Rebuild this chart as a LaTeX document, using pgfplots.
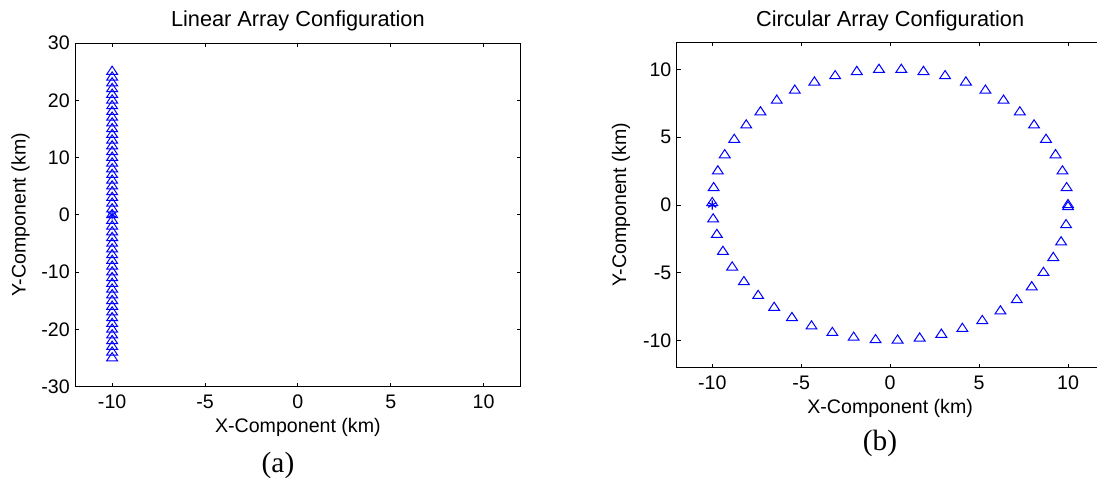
\documentclass[border=0pt]{standalone}
\usepackage{pgfplots}
\pgfplotsset{compat=1.18}
\usepackage{fontspec}
\setmainfont{Liberation Sans}
\newfontfamily\timesfont{Liberation Serif}

\newcommand{\axfont}{\fontsize{14.7}{17}\selectfont}
\newcommand{\titlefont}{\fontsize{16.3}{19}\selectfont}
\newcommand{\capfont}{\timesfont\fontsize{22}{26}\selectfont}

\pgfplotsset{
  matlab/.style={
    scale only axis,
    xmin=-12, xmax=12,
    xtick={-10,-5,0,5,10},
    tick align=inside,
    major tick length=3pt,
    axis line style={black, line width=0.6pt},
    tick style={black, line width=0.6pt},
    ticklabel style={font=\axfont, inner sep=0pt},
    xticklabel style={yshift=-6.2pt},
    yticklabel style={xshift=-3.8pt},
    /pgf/number format/assume math mode=true,
  },
  tri/.style={only marks, color=blue, mark=triangle, mark size=4.1pt,
    mark options={xscale=1.15, line width=0.75pt}},
  ref/.style={only marks, color=blue, mark=asterisk, mark size=3.5pt,
    mark options={line width=0.9pt}},
}

\begin{document}
\begin{tikzpicture}
\path[use as bounding box] (0,0) rectangle (822.75pt,-358.5pt);

% (a) linear array
\begin{axis}[matlab, name=A, at={(56.25pt,-32.25pt)}, anchor=north west,
  width=334.3pt, height=257.8pt,
  ymin=-30, ymax=30, ytick={-30,-20,...,30}]
\addplot[tri] coordinates {
  (-10,-25) (-10,-24) (-10,-23) (-10,-22) (-10,-21) (-10,-20) (-10,-19)
  (-10,-18) (-10,-17) (-10,-16) (-10,-15) (-10,-14) (-10,-13) (-10,-12)
  (-10,-11) (-10,-10) (-10,-9) (-10,-8) (-10,-7) (-10,-6) (-10,-5)
  (-10,-4) (-10,-3) (-10,-2) (-10,-1) (-10,0) (-10,1) (-10,2) (-10,3)
  (-10,4) (-10,5) (-10,6) (-10,7) (-10,8) (-10,9) (-10,10) (-10,11)
  (-10,12) (-10,13) (-10,14) (-10,15) (-10,16) (-10,17) (-10,18)
  (-10,19) (-10,20) (-10,21) (-10,22) (-10,23) (-10,24) (-10,25)
};
\addplot[ref] coordinates {(-10,0)};
\end{axis}
\node[anchor=base, font=\titlefont] at ([yshift=12pt]A.north) {Linear Array Configuration};
\node[anchor=base, font=\axfont] at ([yshift=-34.2pt]A.south) {X-Component (km)};
\node[anchor=base, rotate=90, font=\axfont] at ([xshift=-37pt]A.west) {Y-Component (km)};
\node[anchor=base, font=\capfont] at (208.5pt,-354pt) {(a)};

% (b) circular array
\begin{axis}[matlab, name=B, at={(507.5pt,-31.7pt)}, anchor=north west,
  width=320.2pt, height=244pt,
  ymin=-12, ymax=12, ytick={-10,-5,0,5,10}]
\addplot[tri] coordinates {
  (10.000,0.000) (9.921,1.253) (9.686,2.487) (9.298,3.681) (8.763,4.818)
  (8.090,5.878) (7.290,6.845) (6.374,7.705) (5.358,8.443) (4.258,9.048)
  (3.090,9.511) (1.874,9.823) (0.628,9.980) (-0.628,9.980) (-1.874,9.823)
  (-3.090,9.511) (-4.258,9.048) (-5.358,8.443) (-6.374,7.705) (-7.290,6.845)
  (-8.090,5.878) (-8.763,4.818) (-9.298,3.681) (-9.686,2.487) (-9.921,1.253)
  (-10.000,0.150) (-9.950,-1.050) (-9.740,-2.200) (-9.400,-3.450) (-8.880,-4.600)
  (-8.220,-5.680) (-7.420,-6.700) (-6.520,-7.580) (-5.520,-8.330) (-4.420,-8.950)
  (-3.250,-9.430) (-2.050,-9.780) (-0.820,-9.960) (0.420,-9.990) (1.660,-9.840)
  (2.880,-9.560) (4.060,-9.130) (5.180,-8.550) (6.200,-7.840) (7.120,-7.010)
  (7.960,-6.060) (8.620,-5.000) (9.170,-3.900) (9.610,-2.750) (9.890,-1.480)
  (10.000,-0.150)
};
\addplot[ref] coordinates {(-10,0)};
\end{axis}
\node[anchor=base, font=\titlefont] at ([yshift=12pt]B.north) {Circular Array Configuration};
\node[anchor=base, font=\axfont] at ([yshift=-34.2pt]B.south) {X-Component (km)};
\node[anchor=base, rotate=90, font=\axfont] at ([xshift=-38pt]B.west) {Y-Component (km)};
\node[anchor=base, font=\capfont] at (660pt,-337.5pt) {(b)};
\end{tikzpicture}
\end{document}
